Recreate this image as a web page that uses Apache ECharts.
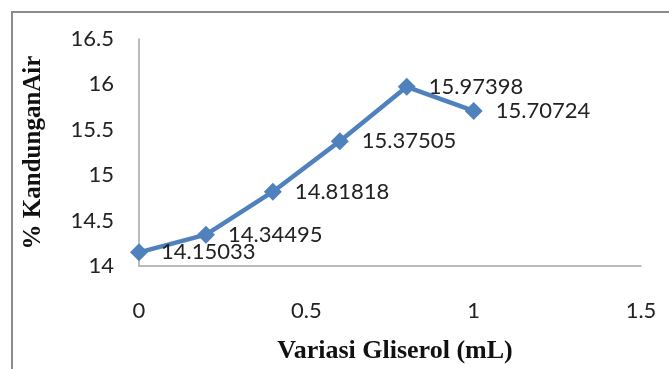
<!DOCTYPE html>
<html><head><meta charset="utf-8">
<script src="https://cdn.jsdelivr.net/npm/echarts@6/dist/echarts.min.js"></script>
<style>html,body{margin:0;padding:0;background:#fff}#c{width:669px;height:369px}</style>
</head><body><div id="c"></div>
<script>
const xValues = [0, 0.2, 0.4, 0.6, 0.8, 1.0];
const yValues = [14.15033, 14.34495, 14.81818, 15.37505, 15.97398, 15.70724];
const xTicks = [0, 0.5, 1, 1.5];
const yTicks = [14, 14.5, 15, 15.5, 16, 16.5];

const chart = echarts.init(document.getElementById('c'), null, {renderer: 'canvas'});
const tickFont = {fontFamily: 'Lato', fontSize: 22, color: '#222'};
chart.setOption({
  animation: false,
  graphic: [{type: 'rect', shape: {x: 12, y: 12, width: 720, height: 420}, style: {fill: 'none', stroke: '#8c8c8c', lineWidth: 2}}],
  grid: {left: 139, top: 39, right: 28, bottom: 103, containLabel: false, outerBoundsMode: 'none'},
  xAxis: {
    type: 'value', min: 0, max: 1.5, interval: 0.5,
    name: 'Variasi Gliserol (mL)', nameLocation: 'middle', nameGap: 72,
    nameTextStyle: {fontFamily: 'Liberation Serif', fontWeight: 'bold', fontSize: 26, color: '#111', padding: [0, 0, 0, 10]},
    axisLine: {lineStyle: {color: '#a6a6a6', width: 1.5}},
    axisTick: {show: false}, splitLine: {show: false},
    axisLabel: Object.assign({margin: 34, formatter: v => xTicks.includes(v) ? String(v) : ''}, tickFont)
  },
  yAxis: {
    type: 'value', min: 14, max: 16.5, interval: 0.5,
    name: '% KandunganAir', nameLocation: 'middle', nameGap: 93, nameRotate: 90,
    nameTextStyle: {fontFamily: 'Liberation Serif', fontWeight: 'bold', fontSize: 25, color: '#111'},
    axisLine: {show: true, lineStyle: {color: '#a6a6a6', width: 1.5}},
    axisTick: {show: false}, splitLine: {show: false},
    axisLabel: Object.assign({margin: 25, formatter: v => yTicks.includes(v) ? String(v) : ''}, tickFont)
  },
  series: [{
    type: 'line',
    data: xValues.map((x, i) => [x, yValues[i]]),
    symbol: 'diamond', symbolSize: 18,
    lineStyle: {color: '#4F81BD', width: 4.5},
    itemStyle: {color: '#4F81BD'},
    label: {show: true, position: 'right', distance: 13, formatter: p => String(p.value[1]), fontFamily: 'Lato', fontSize: 22, color: '#222'}
  }]
});
</script></body></html>
